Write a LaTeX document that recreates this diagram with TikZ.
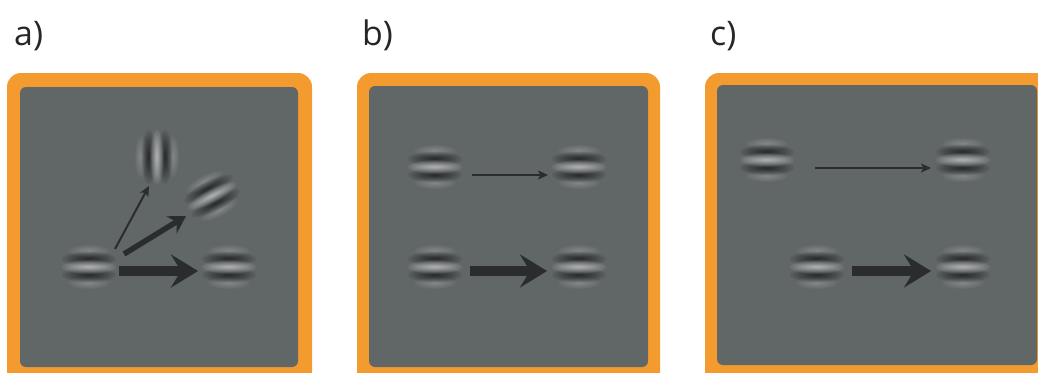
\documentclass[tikz,border=0pt]{standalone}
\usepackage{fontspec}
\setmainfont{Open Sans}
\usetikzlibrary{arrows.meta}
\definecolor{frameorange}{HTML}{F49B30}
\definecolor{panelgray}{HTML}{616667}
\definecolor{arrowdark}{HTML}{2A2C2E}
\tikzset{
  outerframe/.style={fill=frameorange, rounded corners=14bp},
  innerpanel/.style={fill=panelgray, rounded corners=6bp},
  panellabel/.style={anchor=base west, inner sep=0pt, font=\fontsize{34}{34}\selectfont, text=black!85},
  thinarrow/.style={draw=arrowdark, line width=2bp, -{Stealth[length=10bp, width=9bp, inset=2.5bp]}},
  midarrow/.style={draw=arrowdark, line width=5.5bp, -{Stealth[length=17bp, width=20bp, inset=6bp]}},
  thickarrow/.style={draw=arrowdark, line width=10.5bp, -{Stealth[length=27bp, width=33bp, inset=10bp]}},
}
% one blurred stripe: #1 offset, #2 half length, #3 half height, #4 colour, #5 opacity of each layer
\newcommand\blurstripe[5]{%
  \foreach \k in {1,...,10}{%
    \fill[#4, opacity=#5] (0,#1) ellipse ({#2*\k/10} and {#3*\k/10});
  }}
% Gabor patch: #1 = name of centre coordinate, #2 = rotation
\newcommand\gaborpatch[2]{%
  \begin{scope}[shift={(#1)}, rotate=#2]
    \blurstripe{-16}{21}{6}{white}{0.028}
    \blurstripe{16}{21}{6}{white}{0.028}
    \blurstripe{-8}{27}{7.5}{black}{0.07}
    \blurstripe{8}{27}{7.5}{black}{0.07}
    \blurstripe{0}{27}{7}{white}{0.065}
  \end{scope}}
\begin{document}
\begin{tikzpicture}[x=1bp, y=-1bp]
\useasboundingbox (0,0) rectangle (1038,372);
\clip (0,0) rectangle (1038,372);
\fill[white] (0,0) rectangle (1038,372);

% labels
\node[panellabel] (la) at (14,45) {a)};
\node[panellabel] (lb) at (362,45) {b)};
\node[panellabel] (lc) at (710,45) {c)};

% frames
\fill[outerframe] (7,73) rectangle (312,386);
\fill[innerpanel] (20,87) rectangle (298,367);
\fill[outerframe] (357,73) rectangle (660,386);
\fill[innerpanel] (369,86) rectangle (648,367);
\fill[outerframe] (705,73) rectangle (1060,386);
\fill[innerpanel] (717,85) rectangle (1037,365);

% ---- panel a ----
\coordinate (a1) at (89,267);
\coordinate (a2) at (229,267);
\coordinate (a3) at (157,157);
\coordinate (a4) at (212,196);
\gaborpatch{a1}{0}
\gaborpatch{a2}{0}
\gaborpatch{a3}{90}
\gaborpatch{a4}{28}
\coordinate (a1t) at (115,249);
\coordinate (a3b) at (149,186);
\coordinate (a1m) at (124,254);
\coordinate (a4b) at (186,216);
\coordinate (a1r) at (119,271);
\coordinate (a2l) at (198,271);
\draw[thinarrow] (a1t) -- (a3b);
\draw[midarrow] (a1m) -- (a4b);
\draw[thickarrow] (a1r) -- (a2l);

% ---- panel b ----
\coordinate (b1) at (435,167);
\coordinate (b2) at (579,167);
\coordinate (b3) at (435,267);
\coordinate (b4) at (579,267);
\gaborpatch{b1}{0}
\gaborpatch{b2}{0}
\gaborpatch{b3}{0}
\gaborpatch{b4}{0}
\coordinate (b1r) at (472,175);
\coordinate (b2l) at (548,175);
\coordinate (b3r) at (470,271);
\coordinate (b4l) at (547,271);
\draw[thinarrow] (b1r) -- (b2l);
\draw[thickarrow] (b3r) -- (b4l);

% ---- panel c ----
\coordinate (c1) at (767,160);
\coordinate (c2) at (963,160);
\coordinate (c3) at (817,267);
\coordinate (c4) at (963,267);
\gaborpatch{c1}{0}
\gaborpatch{c2}{0}
\gaborpatch{c3}{0}
\gaborpatch{c4}{0}
\coordinate (c1r) at (815,168);
\coordinate (c2l) at (931,168);
\coordinate (c3r) at (852,271);
\coordinate (c4l) at (931,271);
\draw[thinarrow] (c1r) -- (c2l);
\draw[thickarrow] (c3r) -- (c4l);
\end{tikzpicture}
\end{document}
